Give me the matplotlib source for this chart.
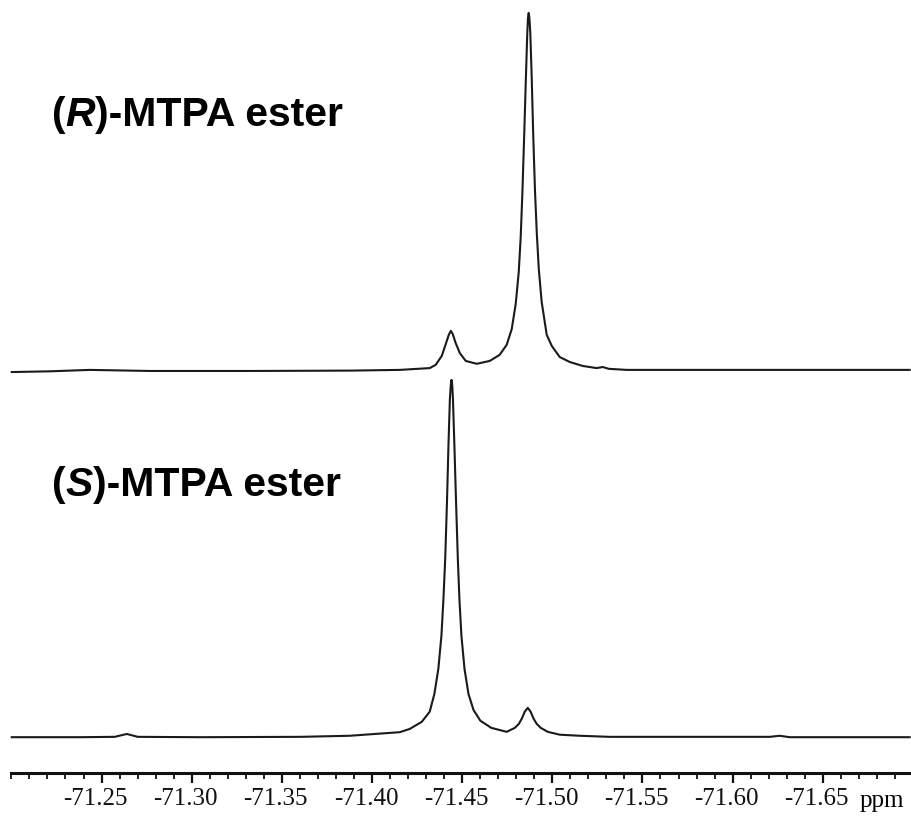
import numpy as np
import matplotlib
matplotlib.use("Agg")
import matplotlib.pyplot as plt
from matplotlib.ticker import MultipleLocator, FixedLocator
from matplotlib.transforms import ScaledTranslation

# 19F NMR traces (ppm, relative intensity, big peak = 100)
r_ppm = [-71.2002, -71.2213, -71.2435, -71.2767, -71.3322, -71.3877, -71.4154,
         -71.4320, -71.4353, -71.4387, -71.4409, -71.4426, -71.4437, -71.4448,
         -71.4464, -71.4487, -71.4520, -71.4581, -71.4653, -71.4708, -71.4747,
         -71.4775, -71.4797, -71.4814, -71.4825, -71.4834, -71.4844, -71.4853,
         -71.4861, -71.4865, -71.4869, -71.4873, -71.4878, -71.4886, -71.4894,
         -71.4904, -71.4914, -71.4925, -71.4941, -71.4969, -71.4997, -71.5041,
         -71.5097, -71.5169, -71.5246, -71.5280, -71.5313, -71.5413, -71.5818,
         -71.6372, -71.6982]
r_int = [-0.3, -0.1, 0.3, 0.0, 0.0, 0.1, 0.3,
         0.8, 1.7, 4.2, 7.5, 10.1, 11.2, 10.3,
         7.8, 5.0, 2.8, 2.0, 2.8, 4.5, 7.3,
         11.7, 18.7, 27.7, 37.7, 49.7, 65.6, 81.0,
         94.1, 98.6, 100.0, 98.6, 94.4, 81.6, 66.2,
         50.3, 38.5, 28.5, 19.3, 10.1, 7.0, 3.9,
         2.5, 1.4, 0.8, 1.1, 0.6, 0.3, 0.3,
         0.3, 0.3]

s_ppm = [-71.2002, -71.2379, -71.2573, -71.2640, -71.2701, -71.3045, -71.3599,
         -71.3877, -71.4154, -71.4209, -71.4276, -71.4320, -71.4346, -71.4368,
         -71.4385, -71.4396, -71.4406, -71.4416, -71.4424, -71.4432, -71.4437,
         -71.4441, -71.4445, -71.4449, -71.4457, -71.4466, -71.4476, -71.4485,
         -71.4496, -71.4513, -71.4535, -71.4563, -71.4601, -71.4662, -71.4747,
         -71.4792, -71.4814, -71.4830, -71.4847, -71.4864, -71.4880, -71.4897,
         -71.4914, -71.4936, -71.4975, -71.5041, -71.5152, -71.5318, -71.5818,
         -71.6206, -71.6261, -71.6317, -71.6982]
s_int = [-0.1, -0.1, 0.0, 0.8, 0.0, -0.1, 0.0,
         0.3, 1.3, 2.2, 4.2, 7.0, 12.0, 19.0,
         28.2, 38.3, 49.7, 65.9, 81.3, 94.4, 98.3,
         99.7, 98.3, 94.4, 81.3, 65.9, 49.7, 38.3,
         28.2, 19.0, 12.0, 7.5, 4.5, 2.5, 1.4,
         2.5, 3.6, 5.0, 7.0, 8.1, 7.0, 5.0,
         3.6, 2.5, 1.4, 0.6, 0.3, 0.0, 0.0,
         0.0, 0.3, -0.1, -0.1]

r_offset = 112.3
s_offset = 10.1

major_ticks = [-71.25, -71.30, -71.35, -71.40, -71.45, -71.50, -71.55, -71.60, -71.65]
major_labels = ["-71.25", "-71.30", "-71.35", "-71.40", "-71.45",
                "-71.50", "-71.55", "-71.60", "-71.65"]

fig = plt.figure(figsize=(9.12, 8.17), dpi=100)
ax = fig.add_axes([10.5 / 912, 44 / 817, 901.5 / 912, 773 / 817])

ax.plot(r_ppm, np.array(r_int) + r_offset, color="#1a1a1a", lw=1.5)
ax.plot(s_ppm, np.array(s_int) + s_offset, color="#1a1a1a", lw=1.5)

ax.set_xlim(-71.1995, -71.6995)
ax.set_ylim(0, 773 / 3.58)

for side in ["left", "right", "top"]:
    ax.spines[side].set_visible(False)
ax.spines["bottom"].set_linewidth(2.2)
ax.spines["bottom"].set_color("#111111")
ax.set_yticks([])

ax.xaxis.set_major_locator(FixedLocator(major_ticks))
ax.set_xticklabels(major_labels, fontfamily="Liberation Serif", fontsize=18)
ax.xaxis.set_minor_locator(MultipleLocator(0.01))
ax.tick_params(axis="x", which="major", direction="out", length=7.5, width=1.6,
               pad=3, colors="#111111")
ax.tick_params(axis="x", which="minor", direction="out", length=4, width=1.3,
               colors="#111111")
# labels sit a little left of their ticks in the original
shift = ScaledTranslation(-6 / 100, 0, fig.dpi_scale_trans)
for lbl in ax.get_xticklabels():
    lbl.set_transform(lbl.get_transform() + shift)

fig.text(882 / 912, 1 - 801 / 817, "ppm", ha="center", va="center",
         fontfamily="Liberation Serif", fontsize=18)


def label(y_bottom, letter):
    kw = dict(fontfamily="Liberation Sans", fontsize=29.5, fontweight="bold",
              va="bottom", ha="left")
    t1 = fig.text(52 / 912, 1 - y_bottom / 817, "(", **kw)
    t2 = ax.annotate(letter, xy=(1, 0), xycoords=t1, style="italic", **kw)
    ax.annotate(")-MTPA ester", xy=(1, 0), xycoords=t2, **kw)


label(134, "R")
label(504, "S")

fig.savefig("out.png", dpi=100)
